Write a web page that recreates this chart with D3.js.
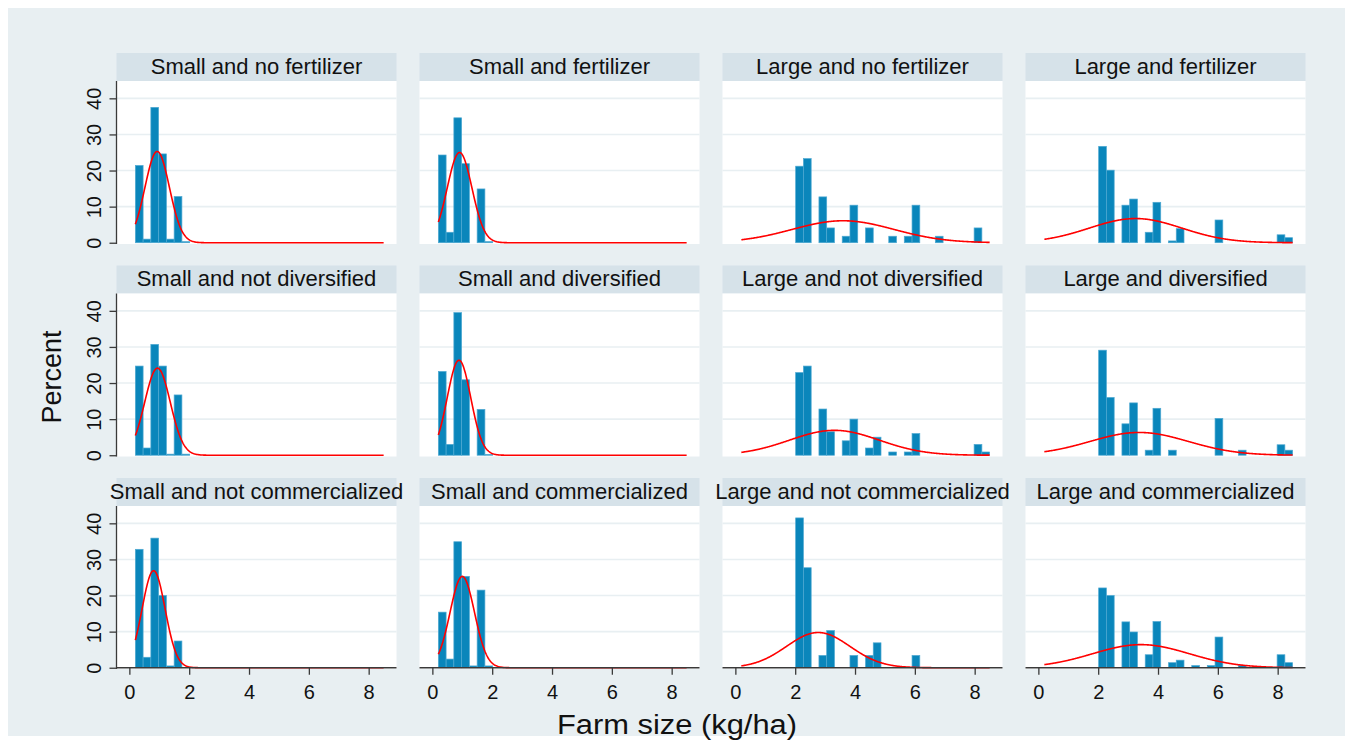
<!DOCTYPE html>
<html>
<head>
<meta charset="utf-8">
<script src="https://cdn.jsdelivr.net/npm/d3@7"></script>
<style>
body{margin:0;background:#fff;}
text{font-family:"Liberation Sans",Arial,sans-serif;fill:#111;}
</style>
</head>
<body>
<svg class="chart" width="1352" height="740"></svg>
<script>
var titles = ['Small and no fertilizer','Small and fertilizer','Large and no fertilizer','Large and fertilizer',
	'Small and not diversified','Small and diversified','Large and not diversified','Large and diversified',
	'Small and not commercialized','Small and commercialized','Large and not commercialized','Large and commercialized'];

// histogram bins shared by all panels
var binStart = 0.2,
	binWidth = 0.259375;

// bar heights (percent); small panels start at bin 0, large ones at bin 7
var smallNoFert = [21.4, 1.0, 37.5, 24.6, 1.0, 12.8, 0.3];
var smallFert = [24.3, 2.9, 34.6, 21.9, 0, 14.9, 0.3];
var largeNoFert = [21.2, 23.3, 0, 12.7, 4.1, 0, 1.8, 10.4, 0, 4.1, 0, 0, 1.8, 0, 1.8, 10.4, 0, 0, 1.8, 0, 0, 0, 0, 4.1, 0];
var largeFert = [26.7, 20.1, 0, 10.4, 12.1, 0, 2.9, 11.2, 0, 0.5, 3.9, 0, 0, 0, 0, 6.3, 0, 0, 0, 0, 0, 0, 0, 2.2, 1.4];
var smallNotDiv = [24.7, 2.0, 30.7, 24.7, 0.3, 16.7, 0.3];
var smallDiv = [23.2, 3.0, 39.5, 20.9, 0, 12.7, 0.2];
var largeNotDiv = [22.9, 24.7, 0, 12.8, 6.5, 0, 4.0, 10.0, 0, 2.0, 5.0, 0, 0.9, 0, 0.9, 6.0, 0, 0, 0, 0, 0, 0, 0, 3.0, 0.9];
var largeDiv = [29.1, 16.0, 0, 8.7, 14.5, 0, 1.4, 13.0, 0, 1.4, 0, 0, 0, 0, 0, 10.2, 0, 0, 1.4, 0, 0, 0, 0, 2.9, 1.4];
var smallNotComm = [32.8, 2.9, 35.9, 20.0, 0.5, 7.4, 0];
var smallComm = [15.4, 2.4, 34.9, 25.3, 0.5, 21.5, 0.5];
var largeNotComm = [41.5, 27.7, 0, 3.4, 10.3, 0, 0, 3.4, 0, 3.4, 6.9, 0, 0, 0, 0, 3.4, 0, 0, 0, 0, 0, 0, 0, 0, 0];
var largeComm = [22.1, 20.0, 0, 12.7, 9.9, 0, 3.6, 12.8, 0, 1.4, 2.1, 0, 0.6, 0, 0.6, 8.5, 0, 0, 0.6, 0, 0, 0, 0, 3.6, 1.4];

var firstBin = [0, 0, 7, 7, 0, 0, 7, 7, 0, 0, 7, 7];

// fitted normal curves
var fitMean = [0.93, 0.91, 3.6, 3.25, 0.94, 0.89, 3.31, 3.37, 0.81, 1.0, 2.77, 3.43];
var fitSd = [0.409, 0.414, 1.70, 1.545, 0.429, 0.393, 1.50, 1.64, 0.385, 0.409, 1.061, 1.617];
var fitRange = [0.2, 8.5];

var xTicks = [0, 2, 4, 6, 8],
	yTicks = [0, 10, 20, 30, 40];

var series = [smallNoFert, smallFert, largeNoFert, largeFert,
	smallNotDiv, smallDiv, largeNotDiv, largeDiv,
	smallNotComm, smallComm, largeNotComm, largeComm];

var plotW = 280,
	plotH = 163,
	headH = 28,
	colStep = 303,
	rowStep = 212.5,
	left0 = 116.5,
	top0 = 81;

var barCol = '#0a86bb',
	bgCol = '#e8eff2',
	headCol = '#d6e2e9',
	axisCol = '#3a3a3a';

var xScale = d3.scaleLinear().domain([-0.43, 8.93]).range([0, plotW]);
var yScale = d3.scaleLinear().domain([-0.35, 44.8]).range([plotH, 0]);

var svg = d3.select('.chart');

svg.append('rect')
	.attr('x', 8).attr('y', 8)
	.attr('width', 1337).attr('height', 728)
	.attr('fill', bgCol);

var line = d3.line()
	.x(d => xScale(d[0]))
	.y(d => yScale(d[1]));

series.forEach(function(vals, i) {
	var col = i % 4,
		row = Math.floor(i / 4);
	var g = svg.append('g')
		.attr('transform', 'translate(' + (left0 + col * colStep) + ',' + (top0 + row * rowStep) + ')');

	g.append('rect')
		.attr('x', 0).attr('y', -headH)
		.attr('width', plotW).attr('height', headH)
		.attr('fill', headCol);
	g.append('text')
		.attr('x', plotW / 2).attr('y', -headH + 20.5)
		.attr('text-anchor', 'middle')
		.attr('font-size', 22)
		.text(titles[i]);

	g.append('rect')
		.attr('width', plotW).attr('height', plotH)
		.attr('fill', '#fff');

	// gridlines
	g.selectAll('.grid')
		.data(yTicks.slice(1))
		.enter().append('line')
		.attr('x1', 0).attr('x2', plotW)
		.attr('y1', d => yScale(d)).attr('y2', d => yScale(d))
		.attr('stroke', bgCol)
		.attr('stroke-width', 1.6);

	// bars
	var bars = vals.map((v, j) => ({k: firstBin[i] + j, v: v})).filter(d => d.v > 0);
	g.selectAll('.bar')
		.data(bars)
		.enter().append('rect')
		.attr('x', d => xScale(binStart + d.k * binWidth))
		.attr('width', d => xScale(binStart + (d.k + 1) * binWidth) - xScale(binStart + d.k * binWidth))
		.attr('y', d => yScale(d.v))
		.attr('height', d => yScale(0) - yScale(d.v))
		.attr('fill', barCol)
		.attr('stroke', '#4fa9d2')
		.attr('stroke-width', 0.7);

	// normal density scaled to percent
	var m = fitMean[i], s = fitSd[i];
	var pts = d3.range(fitRange[0], fitRange[1] + 0.001, 0.02).map(function(x) {
		var z = (x - m) / s;
		return [x, Math.exp(-0.5 * z * z) / (s * Math.sqrt(2 * Math.PI)) * binWidth * 100];
	});
	g.append('path')
		.attr('d', line(pts))
		.attr('fill', 'none')
		.attr('stroke', '#ff0000')
		.attr('stroke-width', 1.6);

	if (col == 0) {
		var ya = g.append('g')
			.call(d3.axisLeft(yScale).tickValues(yTicks).tickSize(7).tickSizeOuter(0));
		ya.select('.domain').attr('d', 'M0,0V' + plotH);
		ya.selectAll('line, path').attr('stroke', axisCol).attr('stroke-width', 1.3);
		ya.selectAll('text')
			.attr('transform', 'rotate(-90)')
			.attr('x', 0).attr('y', -15.5).attr('dy', 0)
			.attr('text-anchor', 'middle')
			.attr('font-size', 20)
			.attr('fill', '#111')
			.attr('font-family', '"Liberation Sans",Arial,sans-serif');
	}
	if (row == 2) {
		var xa = g.append('g')
			.attr('transform', 'translate(0,' + yScale(0) + ')')
			.call(d3.axisBottom(xScale).tickValues(xTicks).tickSize(7).tickSizeOuter(0).tickPadding(10));
		xa.select('.domain').attr('d', 'M0,0H' + plotW);
		xa.selectAll('line, path').attr('stroke', axisCol).attr('stroke-width', 1.3);
		xa.selectAll('text')
			.attr('font-size', 20)
			.attr('fill', '#111')
			.attr('font-family', '"Liberation Sans",Arial,sans-serif');
	}
});

svg.append('text')
	.attr('transform', 'translate(61,377) rotate(-90)')
	.attr('text-anchor', 'middle')
	.attr('font-size', 27)
	.text('Percent');

svg.append('text')
	.attr('x', 677).attr('y', 734)
	.attr('text-anchor', 'middle')
	.attr('font-size', 27)
	.attr('textLength', 240)
	.attr('lengthAdjust', 'spacingAndGlyphs')
	.text('Farm size (kg/ha)');
</script>
</body>
</html>
